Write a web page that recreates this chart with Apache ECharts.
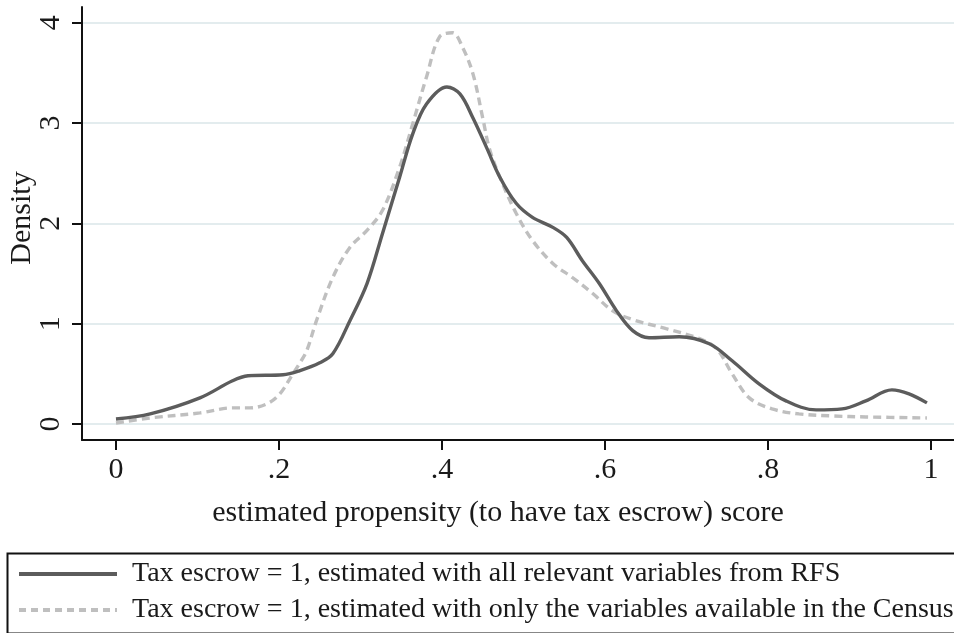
<!DOCTYPE html>
<html>
<head>
<meta charset="utf-8">
<script src="https://cdn.jsdelivr.net/npm/echarts@6/dist/echarts.min.js"></script>
<style>html,body{margin:0;padding:0;background:#fff}#c{width:954px;height:633px}</style>
</head>
<body>
<div id="c"></div>
<script>
// Series 1 (solid): estimated with all relevant variables from RFS
const xSolid = [0.000,0.042,0.103,0.143,0.162,0.205,0.225,0.250,0.266,0.287,0.308,0.327,0.348,0.364,0.381,0.406,0.422,0.438,0.455,0.471,0.491,0.511,0.536,0.553,0.572,0.593,0.614,0.634,0.654,0.691,0.728,0.756,0.789,0.822,0.859,0.891,0.920,0.952,0.973,0.995];
const ySolid = [0.05,0.10,0.26,0.43,0.48,0.49,0.53,0.61,0.70,1.03,1.40,1.90,2.46,2.89,3.19,3.36,3.29,3.05,2.75,2.46,2.20,2.06,1.96,1.86,1.63,1.40,1.13,0.93,0.86,0.87,0.80,0.63,0.40,0.23,0.14,0.15,0.23,0.34,0.30,0.21];
// Series 2 (dashed): estimated with only the variables available in the Census
const xDashed = [0.000,0.042,0.103,0.143,0.164,0.185,0.201,0.217,0.225,0.234,0.246,0.266,0.287,0.308,0.327,0.348,0.364,0.381,0.397,0.413,0.425,0.438,0.450,0.458,0.471,0.491,0.511,0.536,0.560,0.585,0.609,0.634,0.675,0.716,0.737,0.756,0.777,0.805,0.838,0.879,0.920,0.995];
const yDashed = [0.01,0.06,0.11,0.16,0.16,0.20,0.30,0.50,0.60,0.73,1.03,1.46,1.76,1.93,2.13,2.56,2.99,3.46,3.86,3.90,3.76,3.49,3.05,2.75,2.46,2.10,1.83,1.60,1.46,1.30,1.13,1.04,0.95,0.85,0.75,0.50,0.26,0.15,0.10,0.08,0.07,0.06];

const seriesNames = [
  'Tax escrow = 1, estimated with all relevant variables from RFS',
  'Tax escrow = 1, estimated with only the variables available in the Census'
];
const xTicks = [0, 0.2, 0.4, 0.6, 0.8, 1];
const xTickLabels = ['0', '.2', '.4', '.6', '.8', '1'];
const yTicks = [0, 1, 2, 3, 4];
const yTickLabels = ['0', '1', '2', '3', '4'];
const xTitle = 'estimated propensity (to have tax escrow) score';
const yTitle = 'Density';

const FONT = '"Liberation Serif", "Times New Roman", serif';
const pairs = (xs, ys) => xs.map((x, i) => [x, ys[i]]);

const chart = echarts.init(document.getElementById('c'), null, {renderer: 'canvas'});
chart.setOption({
  animation: false,
  backgroundColor: '#ffffff',
  grid: {left: 82, right: 0, top: 7, bottom: 193, containLabel: false, outerBoundsMode: 'none'},
  xAxis: {
    type: 'value', min: -0.0417, max: 1.0282,
    name: xTitle, nameLocation: 'middle', nameGap: 58,
    nameTextStyle: {fontFamily: FONT, fontSize: 30, color: '#1a1a1a', padding: [0, 40, 0, 0]},
    axisLine: {show: true, onZero: false, lineStyle: {color: '#111', width: 2}},
    axisTick: {show: true, length: 10, customValues: xTicks, lineStyle: {color: '#111', width: 2}},
    axisLabel: {customValues: xTicks, margin: 15, fontFamily: FONT, fontSize: 30, color: '#1a1a1a',
      formatter: v => { const i = xTicks.findIndex(t => Math.abs(t - v) < 1e-9); return i >= 0 ? xTickLabels[i] : ''; }},
    splitLine: {show: false}
  },
  yAxis: {
    type: 'value', min: -0.16, max: 4.157,
    axisLine: {show: true, onZero: false, lineStyle: {color: '#111', width: 2}},
    axisTick: {show: true, length: 10, customValues: yTicks, lineStyle: {color: '#111', width: 2}},
    axisLabel: {customValues: yTicks, rotate: 90, margin: 16, fontFamily: FONT, fontSize: 30, color: '#1a1a1a',
      formatter: v => { const i = yTicks.findIndex(t => Math.abs(t - v) < 1e-9); return i >= 0 ? yTickLabels[i] : ''; }},
    splitLine: {show: true, lineStyle: {color: '#e3ecee', width: 2}}
  },
  legend: {
    orient: 'vertical', left: 17, top: 560,
    itemWidth: 98, itemHeight: 30, itemGap: 8,
    padding: 0,
    itemStyle: {opacity: 0},
    textStyle: {fontFamily: FONT, fontSize: 28, color: '#1a1a1a', padding: [0, 0, 0, 10]},
    data: [
      {name: seriesNames[0], lineStyle: {width: 4, color: '#5c5c5c', type: 'solid'}},
      {name: seriesNames[1], lineStyle: {width: 4, color: '#bfbfbf', type: [7, 5]}}
    ]
  },
  graphic: [
    {
      type: 'rect', left: 5, top: 551,
      shape: {width: 960, height: 80},
      style: {fill: 'none', stroke: '#111', lineWidth: 2},
      silent: true
    },
    {
      type: 'text', x: 22, y: 218, rotation: Math.PI / 2,
      style: {text: yTitle, font: '30px ' + FONT, fill: '#1a1a1a', align: 'center', verticalAlign: 'middle'},
      silent: true
    }
  ],
  series: [
    {
      name: seriesNames[0], type: 'line', smooth: 0.35, symbol: 'none',
      data: pairs(xSolid, ySolid),
      lineStyle: {color: '#5c5c5c', width: 3.4},
      itemStyle: {color: '#5c5c5c'},
      z: 3
    },
    {
      name: seriesNames[1], type: 'line', smooth: 0.35, symbol: 'none',
      data: pairs(xDashed, yDashed),
      lineStyle: {color: '#bfbfbf', width: 3.4, type: [8, 5]},
      itemStyle: {color: '#bfbfbf'},
      z: 2
    }
  ]
});
</script>
</body>
</html>
